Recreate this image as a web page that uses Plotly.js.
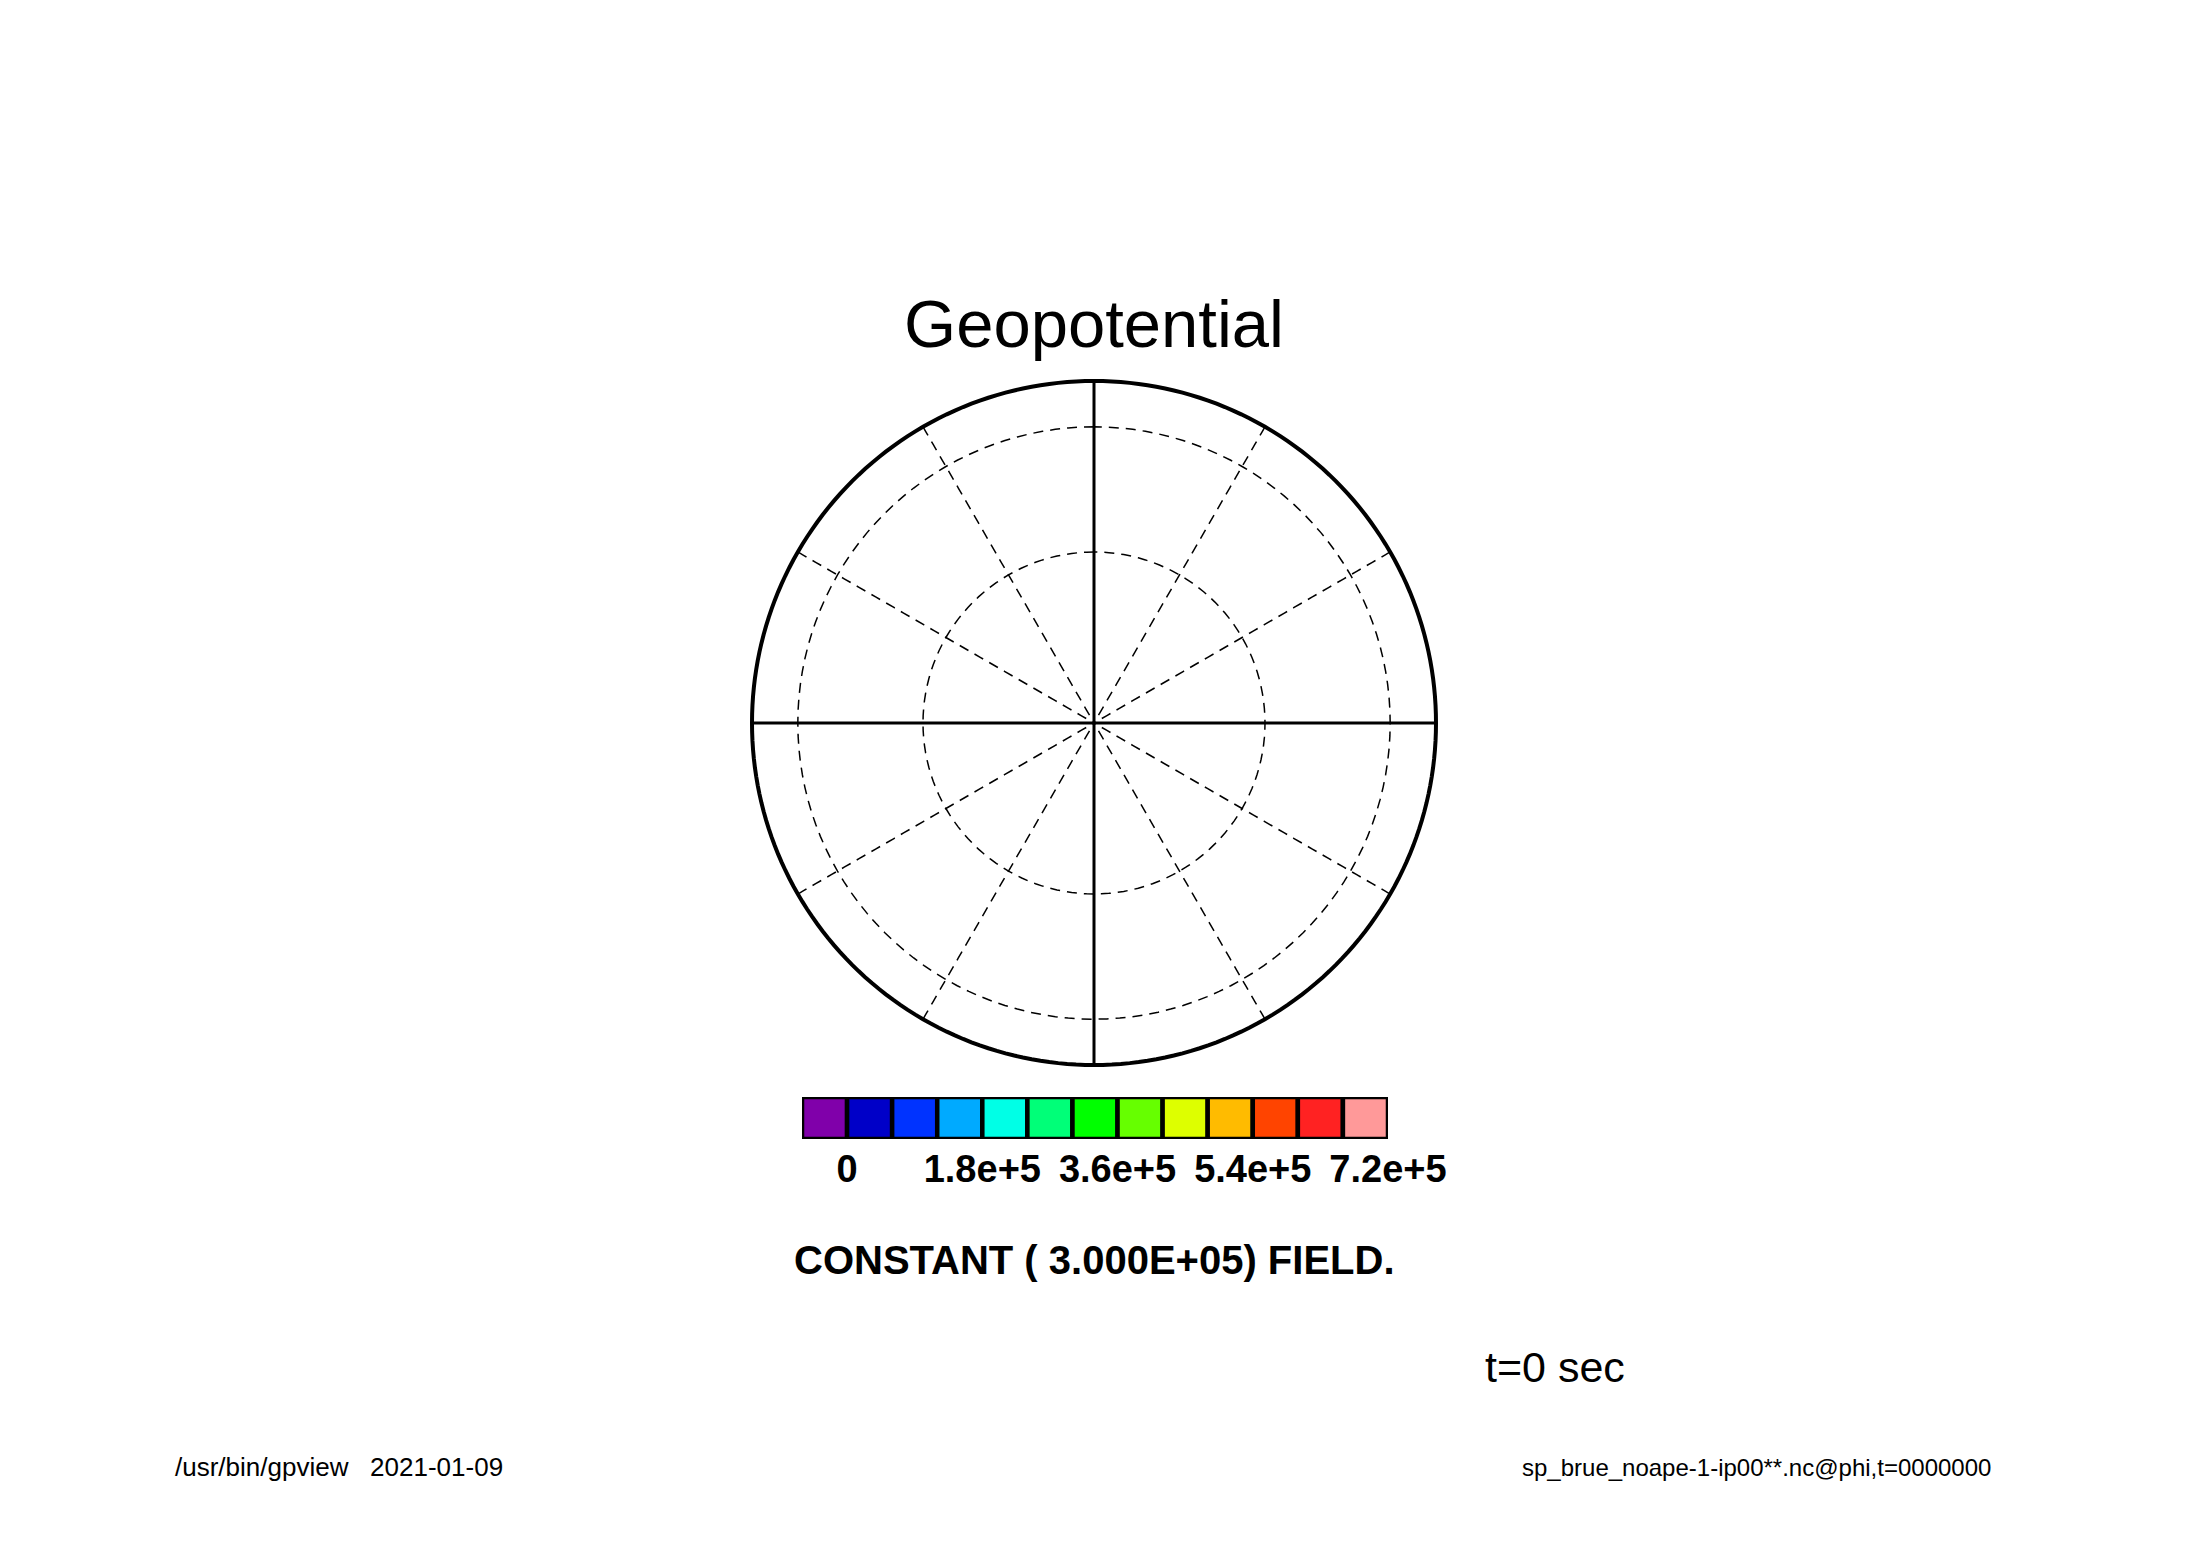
<!DOCTYPE html>
<html>
<head>
<meta charset="utf-8">
<script src="https://cdn.plot.ly/plotly-3.0.1.min.js"></script>
<style>html,body{margin:0;padding:0;background:#fff;}#chart{width:2188px;height:1546px;}</style>
</head>
<body>
<div id="chart"></div>
<script>
// ---- data ----
const levelEdges = [-60000, 0, 60000, 120000, 180000, 240000, 300000, 360000, 420000, 480000, 540000, 600000, 660000, 720000];
const levelColors = ['#8000aa', '#0000c8', '#0033ff', '#00aaff', '#00ffe6', '#00ff78', '#00ff00', '#66ff00', '#ddff00', '#ffbb00', '#ff4400', '#ff2222', '#ff9999'];
const tickValues = [0, 180000, 360000, 540000, 720000];
const tickLabels = ['0', '1.8e+5', '3.6e+5', '5.4e+5', '7.2e+5'];
const meridianLonA = [0, 0, 180];
const meridianLatA = [0, 90, 0];
const meridianLonB = [90, 90, 270];
const meridianLatB = [0, 90, 0];
const fieldValue = '3.000E+05';
const titleText = 'Geopotential';
const timeText = 't=0 sec';
const footerLeft = '/usr/bin/gpview\u00a0\u00a0\u00a02021-01-09';
const footerRight = 'sp_brue_noape-1-ip00**.nc@phi,t=0000000';

// ---- build ----
const W = 2188, H = 1546;
const barX = [], barW = [], barY = [];
for (let i = 0; i < levelColors.length; i++) {
  barX.push((levelEdges[i] + levelEdges[i + 1]) / 2);
  barW.push(levelEdges[i + 1] - levelEdges[i]);
  barY.push(1);
}

const cx = 1094, cy = 723, R = 342;
const sans = '"Liberation Sans", Arial, sans-serif';

const traces = [
  {type: 'scattergeo', mode: 'lines', lon: meridianLonA, lat: meridianLatA,
   line: {color: 'black', width: 3}, hoverinfo: 'skip', showlegend: false},
  {type: 'scattergeo', mode: 'lines', lon: meridianLonB, lat: meridianLatB,
   line: {color: 'black', width: 3}, hoverinfo: 'skip', showlegend: false},
  {type: 'bar', x: barX, y: barY, width: barW, base: 0,
   marker: {color: levelColors, line: {color: 'black', width: 4.5}},
   xaxis: 'x', yaxis: 'y', hoverinfo: 'skip', showlegend: false}
];

const layout = {
  width: W, height: H,
  margin: {l: 0, r: 0, t: 0, b: 0},
  paper_bgcolor: 'white', plot_bgcolor: 'white',
  showlegend: false,
  title: {text: titleText, x: 0.5, xanchor: 'center', y: 1 - 324 / H, yanchor: 'middle',
          font: {family: sans, size: 67, color: 'black'}},
  geo: {
    domain: {x: [(cx - R) / W, (cx + R) / W], y: [(H - cy - R) / H, (H - cy + R) / H]},
    projection: {type: 'orthographic', rotation: {lon: 0, lat: 90, roll: 0}},
    showland: false, showcoastlines: false, showocean: false, showlakes: false,
    showrivers: false, showcountries: false,
    showframe: true, framecolor: 'black', framewidth: 4,
    bgcolor: 'white',
    lataxis: {showgrid: true, tick0: 0, dtick: 30, gridcolor: 'black', gridwidth: 1.5, griddash: '10px,7px'},
    lonaxis: {showgrid: true, tick0: 0, dtick: 30, gridcolor: 'black', gridwidth: 1.5, griddash: '10px,7px'}
  },
  xaxis: {
    domain: [802 / W, 1388 / W], range: [levelEdges[0], levelEdges[levelEdges.length - 1]],
    anchor: 'y', showgrid: false, zeroline: false, showline: false,
    tickmode: 'array', tickvals: tickValues, ticktext: tickLabels, tickangle: 0,
    ticks: '', ticklabelstandoff: 4,
    tickfont: {family: sans, size: 38, color: 'black', weight: 'bold'},
    fixedrange: true
  },
  yaxis: {
    domain: [(H - 1139) / H, (H - 1097) / H], range: [0, 1],
    anchor: 'x', showgrid: false, zeroline: false, showline: false, showticklabels: false,
    ticks: '', fixedrange: true
  },
  bargap: 0,
  annotations: [
    {text: 'CONSTANT ( ' + fieldValue + ') FIELD.', xref: 'paper', yref: 'paper',
     x: 0.5, y: 1 - 1260 / H, xanchor: 'center', yanchor: 'middle', showarrow: false,
     font: {family: sans, size: 40, color: 'black', weight: 'bold'}},
    {text: timeText, xref: 'paper', yref: 'paper', x: 1555 / W, y: 1 - 1367 / H,
     xanchor: 'center', yanchor: 'middle', showarrow: false,
     font: {family: sans, size: 43, color: 'black'}},
    {text: footerLeft, xref: 'paper', yref: 'paper', x: 173 / W, y: 1 - 1467 / H,
     xanchor: 'left', yanchor: 'middle', showarrow: false,
     font: {family: sans, size: 26, color: 'black'}},
    {text: footerRight, xref: 'paper', yref: 'paper', x: 1993 / W, y: 1 - 1467 / H,
     xanchor: 'right', yanchor: 'middle', showarrow: false,
     font: {family: sans, size: 24, color: 'black'}}
  ]
};

Plotly.newPlot('chart', traces, layout, {displayModeBar: false, staticPlot: true});
</script>
</body>
</html>
